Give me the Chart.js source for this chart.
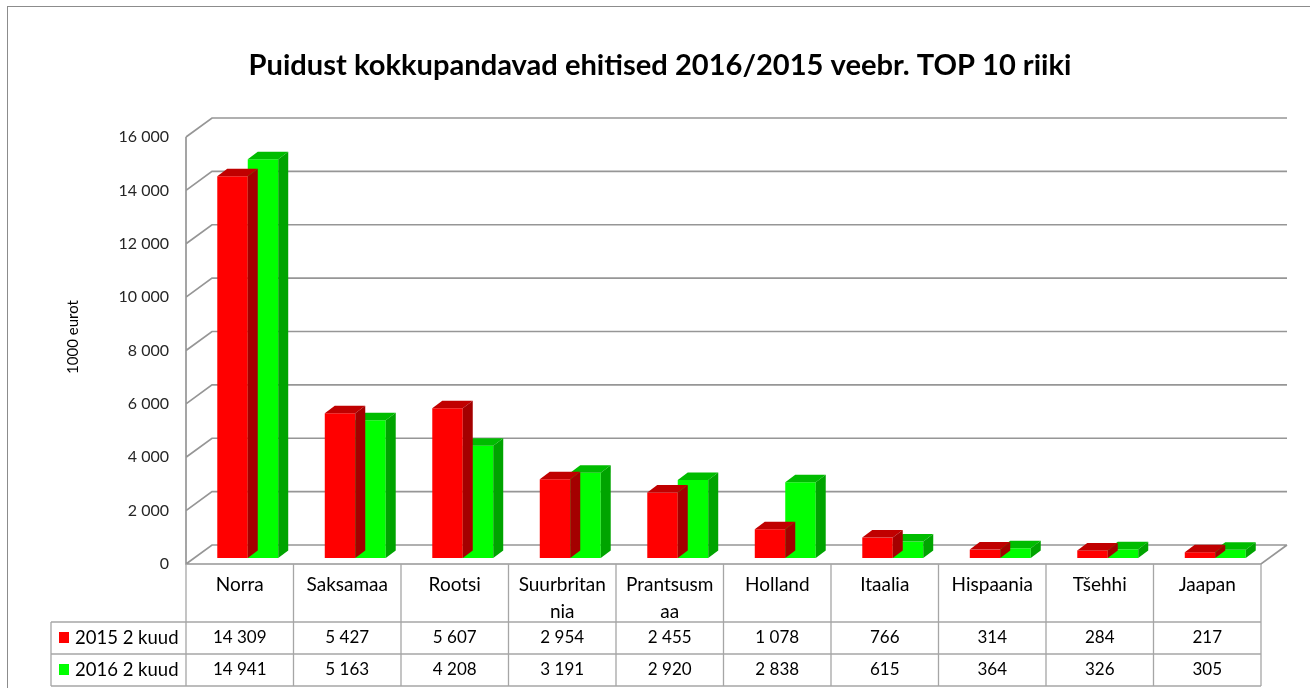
<!DOCTYPE html>
<html>
<head>
<meta charset="utf-8">
<title>Puidust kokkupandavad ehitised</title>
<script src="https://cdn.jsdelivr.net/npm/chart.js@4.4.0/dist/chart.umd.min.js"></script>
<style>
  html, body { margin: 0; padding: 0; background: #fff; }
  #wrap { width: 1310px; height: 688px; position: relative; }
</style>
</head>
<body>
<div id="wrap"><canvas id="chart"></canvas></div>
<script>
// Data
const categories = [['Norra'], ['Saksamaa'], ['Rootsi'], ['Suurbritan', 'nia'], ['Prantsusm', 'aa'],
  ['Holland'], ['Itaalia'], ['Hispaania'], ['Tšehhi'], ['Jaapan']];
const values2015 = [14309, 5427, 5607, 2954, 2455, 1078, 766, 314, 284, 217];
const values2016 = [14941, 5163, 4208, 3191, 2920, 2838, 615, 364, 326, 305];
const seriesNames = ['2015 2 kuud', '2016 2 kuud'];
const yMin = 0, yMax = 16000, yStep = 2000;
const chartTitle = 'Puidust kokkupandavad ehitised 2016/2015 veebr. TOP 10 riiki';
const yTitle = '1000 eurot';

const FONT = 'Lato, "Open Sans", sans-serif';
const frontColors = ['#ff0000', '#00ff00'];
const topColors = ['#c00000', '#00bc00'];
const sideColors = ['#a40000', '#00a400'];

// 3D offsets
const WALL_DX = 26, WALL_DY = 19;   // back wall depth
const BAR_SHIFT_X = 8, BAR_SHIFT_Y = 6;
const BAR_DX = 10, BAR_DY = 7.5;   // bar depth

function fmt(v) {
  return String(v).replace(/\B(?=(\d{3})+(?!\d))/g, ' ');
}

const threeD = {
  id: 'threeD',
  beforeDraw(chart) {
    const ctx = chart.ctx;
    ctx.save();
    ctx.fillStyle = '#fff';
    ctx.fillRect(0, 0, chart.width, chart.height);
    // outer frame
    ctx.strokeStyle = '#8c8c8c';
    ctx.lineWidth = 1;
    ctx.strokeRect(7.5, 6.5, 1400, 800);
    // title, fitted to the width seen in the picture
    ctx.fillStyle = '#000';
    ctx.font = 'bold 26px ' + FONT;
    const w = ctx.measureText(chartTitle).width;
    const size = 26 * 824 / w;
    ctx.font = 'bold ' + size.toFixed(1) + 'px ' + FONT;
    ctx.textAlign = 'center';
    ctx.textBaseline = 'alphabetic';
    ctx.fillText(chartTitle, 660, 75);
    // y title
    ctx.translate(73, 337);
    ctx.rotate(-Math.PI / 2);
    ctx.font = '15px ' + FONT;
    ctx.textBaseline = 'middle';
    ctx.fillText(yTitle, 0, 0);
    ctx.restore();
  },
  beforeDatasetsDraw(chart) {
    const ctx = chart.ctx;
    const a = chart.chartArea;
    const y = chart.scales.y;
    ctx.save();
    ctx.strokeStyle = '#969696';
    ctx.lineWidth = 1.7;
    ctx.beginPath();
    for (let v = yMin; v <= yMax; v += yStep) {
      const py = y.getPixelForValue(v);
      ctx.moveTo(a.left, py);
      ctx.lineTo(a.left + WALL_DX, py - WALL_DY);
      ctx.lineTo(a.right + WALL_DX, py - WALL_DY);
    }
    // front axis line and floor
    ctx.moveTo(a.left, a.top);
    ctx.lineTo(a.left, a.bottom);
    ctx.lineTo(a.right, a.bottom);
    ctx.lineTo(a.right + WALL_DX, a.bottom - WALL_DY);
    ctx.stroke();
    ctx.restore();
    ctx.save();
    ctx.translate(BAR_SHIFT_X, -BAR_SHIFT_Y);
  },
  afterDatasetDraw(chart, args) {
    const ctx = chart.ctx;
    const i = args.index;
    const meta = chart.getDatasetMeta(i);
    ctx.save();
    meta.data.forEach(el => {
      const p = el.getProps(['x', 'y', 'base', 'width'], true);
      const l = p.x - p.width / 2, r = p.x + p.width / 2;
      ctx.fillStyle = topColors[i];
      ctx.beginPath();
      ctx.moveTo(l, p.y);
      ctx.lineTo(l + BAR_DX, p.y - BAR_DY);
      ctx.lineTo(r + BAR_DX, p.y - BAR_DY);
      ctx.lineTo(r, p.y);
      ctx.closePath();
      ctx.fill();
      ctx.fillStyle = sideColors[i];
      ctx.beginPath();
      ctx.moveTo(r, p.y);
      ctx.lineTo(r + BAR_DX, p.y - BAR_DY);
      ctx.lineTo(r + BAR_DX, p.base - BAR_DY);
      ctx.lineTo(r, p.base);
      ctx.closePath();
      ctx.fill();
    });
    ctx.restore();
  },
  afterDatasetsDraw(chart) {
    const ctx = chart.ctx;
    ctx.restore();
    const a = chart.chartArea;
    const x = chart.scales.x;
    const colW = (a.right - a.left) / categories.length;
    const tableLeft = 51;
    const rowTops = [a.bottom, 622, 654, 686];
    ctx.save();
    ctx.strokeStyle = '#a6a6a6';
    ctx.lineWidth = 1.3;
    ctx.beginPath();
    for (let c = 0; c <= categories.length; c++) {
      const px = a.left + c * colW;
      ctx.moveTo(px, a.bottom);
      ctx.lineTo(px, rowTops[3]);
    }
    for (let r = 1; r < rowTops.length; r++) {
      ctx.moveTo(tableLeft, rowTops[r]);
      ctx.lineTo(a.right, rowTops[r]);
    }
    ctx.moveTo(tableLeft, rowTops[1]);
    ctx.lineTo(tableLeft, rowTops[3]);
    ctx.stroke();

    ctx.fillStyle = '#000';
    ctx.textAlign = 'center';
    ctx.textBaseline = 'middle';
    const series = [values2015, values2016];
    categories.forEach((lines, c) => {
      const cx = x.getPixelForValue(c);
      ctx.font = '19px ' + FONT;
      lines.forEach((t, k) => ctx.fillText(t, cx, 585 + k * 27));
      ctx.font = '17px ' + FONT;
      series.forEach((vals, s) => ctx.fillText(fmt(vals[c]), cx, 638 + s * 32));
    });
    // legend keys in the table
    ctx.textAlign = 'left';
    ctx.font = '18.5px ' + FONT;
    seriesNames.forEach((n, s) => {
      const cy = 638 + s * 32;
      ctx.fillStyle = frontColors[s];
      ctx.fillRect(59, cy - 6, 10, 11);
      ctx.fillStyle = '#000';
      ctx.fillText(n, 75, cy);
    });
    ctx.restore();
  }
};

new Chart(document.getElementById('chart'), {
  type: 'bar',
  data: {
    labels: categories,
    datasets: [
      { label: seriesNames[0], data: values2015, backgroundColor: frontColors[0] },
      { label: seriesNames[1], data: values2016, backgroundColor: frontColors[1] }
    ]
  },
  options: {
    responsive: true,
    maintainAspectRatio: false,
    animation: false,
    events: [],
    layout: { padding: { top: 137, right: 49, bottom: 124, left: 0 } },
    datasets: { bar: { categoryPercentage: 0.567, barPercentage: 1, borderWidth: 0 } },
    plugins: { legend: { display: false }, title: { display: false }, tooltip: { enabled: false } },
    scales: {
      x: { display: false },
      y: {
        min: yMin,
        max: yMax,
        grid: { display: false, drawTicks: false },
        border: { display: false },
        ticks: {
          stepSize: yStep,
          padding: 17,
          color: '#262626',
          font: { family: FONT, size: 16 },
          callback: v => fmt(v)
        },
        afterFit(scale) { scale.width = 186; }
      }
    }
  },
  plugins: [threeD]
});
</script>
</body>
</html>
